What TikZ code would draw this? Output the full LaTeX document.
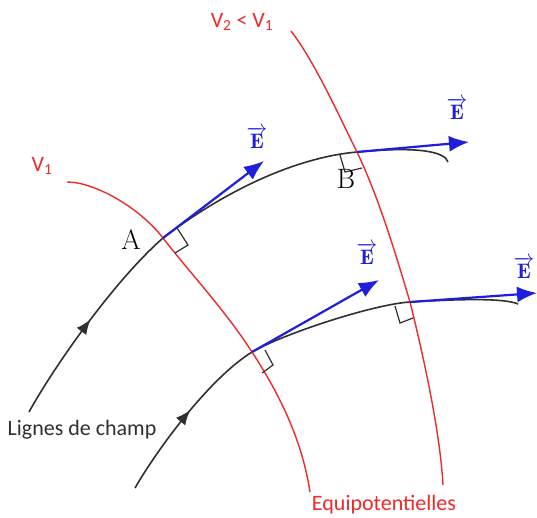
\documentclass[tikz,border=0pt]{standalone}
\usepackage{fontspec}
\usepackage{amsmath}
\newfontfamily\labfont{Carlito}
\usetikzlibrary{arrows.meta,decorations.markings}
\definecolor{eqred}{HTML}{EE2A2A}
\definecolor{eblue}{HTML}{1E1EDC}
\definecolor{fline}{HTML}{303030}
\tikzset{
  fieldline/.style={draw=fline,line width=1.6pt,
    postaction={decorate,decoration={markings,mark=at position #1 with {\arrow{Latex[length=15pt,width=12pt]}}}}},
  equi/.style={draw=eqred,line width=1.4pt},
  evec/.style={draw=eblue,line width=2.2pt,-{Latex[length=20pt,width=16pt]}},
  rangle/.style={draw=fline,line width=1.2pt},
  redlab/.style={text=eqred,font=\labfont\fontsize{22}{26}\selectfont,inner sep=0pt},
  blacklab/.style={text=fline,font=\labfont\fontsize{22}{26}\selectfont,inner sep=0pt},
  ptlab/.style={text=black,font=\fontsize{28}{32}\selectfont,inner sep=0pt},
  elab/.style={text=eblue,font=\fontsize{21}{24}\selectfont,inner sep=0pt}
}
\begin{document}
\begin{tikzpicture}[x=1pt,y=-1pt]
\useasboundingbox[fill=white] (0,0) rectangle (537,517);
% points
\coordinate (A) at (163,238);
\coordinate (B) at (357,152);
\coordinate (C) at (252,352);
\coordinate (D) at (410,302);
% field lines
\path[fieldline=0.21] (29,412) .. controls (55,365) and (115,280) .. (A)
  .. controls (230,187) and (300,157) .. (B)
  .. controls (420,146) and (445,152) .. (448,162);
\path[fieldline=0.21] (135,488) .. controls (158,448) and (210,378) .. (C)
  .. controls (285,333) and (375,304) .. (D)
  .. controls (460,299) and (505,298) .. (518,304);
% equipotentials
\path[equi] (67,182) .. controls (95,182) and (140,208) .. (A)
  .. controls (190,273) and (225,310) .. (C)
  .. controls (280,395) and (302,440) .. (310,492);
\path[equi] (291,31) .. controls (315,62) and (340,118) .. (B)
  .. controls (380,200) and (398,262) .. (D)
  .. controls (422,350) and (440,430) .. (443,485);
% right angles
\draw[rangle] (177,228) -- (188,245) -- (175,253);
\draw[rangle] (340,155) -- (345,172) -- (362,168);
\draw[rangle] (265,350) -- (273,365) -- (262,373);
\draw[rangle] (395,306) -- (400,323) -- (413,318);
% E vectors
\coordinate (EA) at (264,161);
\coordinate (EB) at (469,142);
\coordinate (EC) at (379,280);
\coordinate (ED) at (537,293);
\draw[evec] (A) -- (EA);
\draw[evec] (B) -- (EB);
\draw[evec] (C) -- (EC);
\draw[evec] (D) -- (ED);
\node[elab] (lEA) at (257,138) {$\overrightarrow{\mathbf{E}}$};
\node[elab] (lEB) at (457,109) {$\overrightarrow{\mathbf{E}}$};
\node[elab] (lEC) at (367,254) {$\overrightarrow{\mathbf{E}}$};
\node[elab] (lED) at (524,268) {$\overrightarrow{\mathbf{E}}$};
% labels
\node[ptlab] (lA) at (131,240) {A};
\node[ptlab] (lB) at (346,179) {B};
\node[redlab] (lV1) at (42,166) {V\textsubscript{1}};
\node[redlab] (lV2) at (242,22) {V\textsubscript{2} < V\textsubscript{1}};
\node[blacklab] (lL) at (82,430) {Lignes de champ};
\node[redlab] (lE) at (384,505) {Equipotentielles};
\end{tikzpicture}
\end{document}
